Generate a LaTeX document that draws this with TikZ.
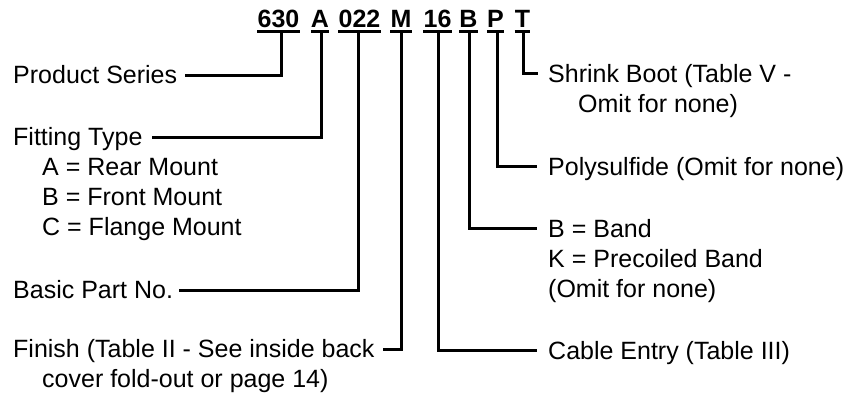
\documentclass[tikz,border=0pt]{standalone}
\usepackage{fontspec}
\setmainfont{Liberation Sans}
\begin{document}
\begin{tikzpicture}[x=1pt,y=-1pt,
  code/.style={anchor=base,inner sep=0pt,font=\fontsize{25}{30}\selectfont\bfseries},
  desc/.style={anchor=base west,inner sep=0pt,font=\fontsize{25}{30}\selectfont},
  uline/.style={line width=2.4pt},
  conn/.style={line width=3pt}]
\useasboundingbox (0,0) rectangle (853,396);
% code labels
\node[code] (c1) at (278.5,28) {630};
\node[code] (c2) at (320,28) {A};
\node[code] (c3) at (359.5,28) {022};
\node[code] (c4) at (401,28) {M};
\node[code] (c5) at (437.5,28) {16};
\node[code] (c6) at (468.5,28) {B};
\node[code] (c7) at (495.5,28) {P};
\node[code] (c8) at (522.5,28) {T};
\foreach \n in {c1,c2,c3,c4,c5,c6,c7,c8}
  \draw[uline] ([yshift=-3.5pt]\n.base west) -- ([yshift=-3.5pt]\n.base east);
% stem tops
\coordinate (s1) at (281,31);
\coordinate (s2) at (321,31);
\coordinate (s3) at (358,31);
\coordinate (s4) at (401,31);
\coordinate (s5) at (438,31);
\coordinate (s6) at (469,31);
\coordinate (s7) at (497,31);
\coordinate (s8) at (523,31);
% left descriptions
\node[desc] (ps) at (13,83.5) {Product Series};
\node[desc] (ft) at (13,145.5) {Fitting Type};
\node[desc] (fa) at (42,175) {A = Rear Mount};
\node[desc] (fb) at (42,205) {B = Front Mount};
\node[desc] (fc) at (42,235) {C = Flange Mount};
\node[desc] (bp) at (13,298.5) {Basic Part No.};
\node[desc] (fi) at (13,357.5) {Finish (Table II - See inside back};
\node[desc] (fi2) at (42,387.5) {cover fold-out or page 14)};
% right descriptions
\node[desc] (sb) at (548,82) {Shrink Boot (Table V -};
\node[desc] (sb2) at (578,112) {Omit for none)};
\node[desc] (po) at (548,175) {Polysulfide (Omit for none)};
\node[desc] (bb) at (548,237) {B = Band};
\node[desc] (bk) at (548,267) {K = Precoiled Band};
\node[desc] (bo) at (548,297) {(Omit for none)};
\node[desc] (ce) at (548,359) {Cable Entry (Table III)};
% connector ends
\coordinate (e1) at (185,75);
\coordinate (e2) at (152,137);
\coordinate (e3) at (179,290);
\coordinate (e4) at (383,349);
\coordinate (e5) at (537,350);
\coordinate (e6) at (537,228);
\coordinate (e7) at (537,166);
\coordinate (e8) at (538,73);
\draw[conn] (s1) |- (e1);
\draw[conn] (s2) |- (e2);
\draw[conn] (s3) |- (e3);
\draw[conn] (s4) |- (e4);
\draw[conn] (s5) |- (e5);
\draw[conn] (s6) |- (e6);
\draw[conn] (s7) |- (e7);
\draw[conn] (s8) |- (e8);
\end{tikzpicture}
\end{document}
